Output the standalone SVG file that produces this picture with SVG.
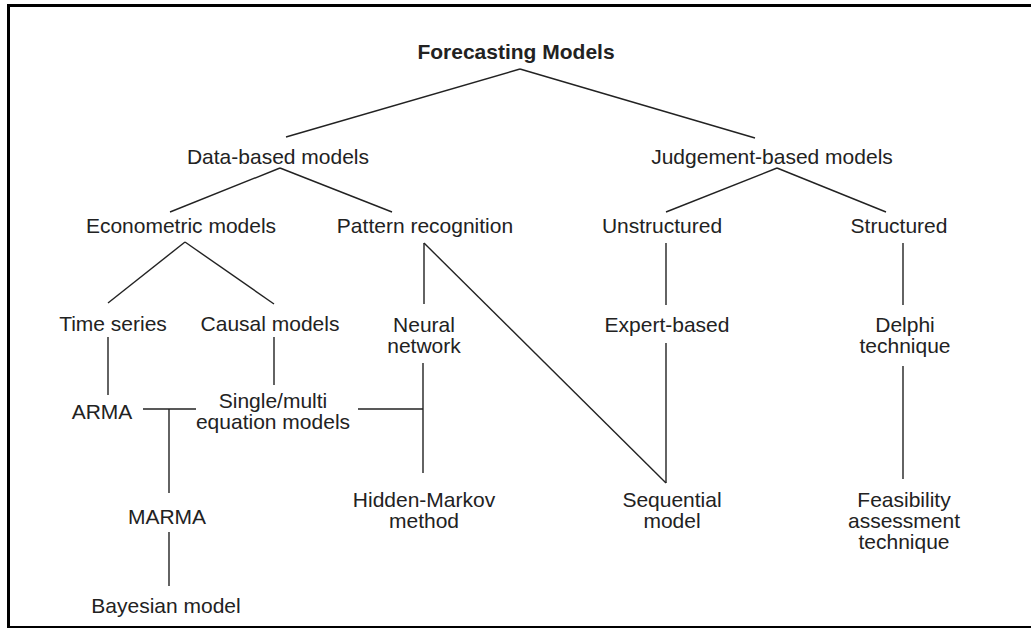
<svg xmlns="http://www.w3.org/2000/svg" width="1031" height="628" viewBox="0 0 1031 628">
  <style>
    .t { font-family: "Liberation Sans", Arial, sans-serif; font-size: 21px; fill: #222; text-anchor: middle; }
    .b { font-weight: bold; }
    .c line { stroke: #222; stroke-width: 1.4; fill: none; }
  </style>
  <rect x="0" y="0" width="1031" height="628" fill="#fff"/>
  <g id="frame" stroke="#000" fill="none">
    <line x1="7" y1="5.5" x2="1031" y2="5.5" stroke-width="3"/>
    <line x1="8.5" y1="4" x2="8.5" y2="628" stroke-width="3"/>
    <line x1="7" y1="627" x2="1031" y2="627" stroke-width="2"/>
  </g>
  <g id="connectors" class="c">
    <line x1="520" y1="69" x2="286" y2="137"/>
    <line x1="520" y1="69" x2="755" y2="138"/>
    <line x1="280" y1="168" x2="170" y2="212"/>
    <line x1="280" y1="168" x2="392" y2="212"/>
    <line x1="777" y1="168" x2="666" y2="212"/>
    <line x1="777" y1="168" x2="886" y2="212"/>
    <line x1="185" y1="242" x2="108" y2="303"/>
    <line x1="185" y1="242" x2="274" y2="304"/>
    <line x1="424" y1="243" x2="424" y2="304"/>
    <line x1="424" y1="243" x2="666" y2="483"/>
    <line x1="666" y1="243" x2="666" y2="305"/>
    <line x1="903" y1="243" x2="903" y2="305"/>
    <line x1="666" y1="343" x2="666" y2="483"/>
    <line x1="903" y1="366" x2="903" y2="479"/>
    <line x1="108" y1="337" x2="108" y2="395"/>
    <line x1="274" y1="337" x2="274" y2="385"/>
    <line x1="143" y1="409" x2="196" y2="409"/>
    <line x1="169" y1="409" x2="169" y2="493"/>
    <line x1="169" y1="532" x2="169" y2="586"/>
    <line x1="358" y1="409" x2="423" y2="409"/>
    <line x1="423" y1="363" x2="423" y2="473"/>
  </g>
  <g id="forecasting-models"><text class="t b" x="516" y="59">Forecasting Models</text></g>
  <g id="data-based"><text class="t" x="278" y="164">Data-based models</text></g>
  <g id="judgement-based"><text class="t" x="772" y="164">Judgement-based models</text></g>
  <g id="econometric"><text class="t" x="181" y="233">Econometric models</text></g>
  <g id="pattern-recognition"><text class="t" x="425" y="233">Pattern recognition</text></g>
  <g id="unstructured"><text class="t" x="662" y="233">Unstructured</text></g>
  <g id="structured"><text class="t" x="899" y="233">Structured</text></g>
  <g id="time-series"><text class="t" x="113" y="331">Time series</text></g>
  <g id="causal-models"><text class="t" x="270" y="331">Causal models</text></g>
  <g id="neural-network"><text class="t" x="424" y="331.5">Neural<tspan x="424" dy="21">network</tspan></text></g>
  <g id="expert-based"><text class="t" x="667" y="332">Expert-based</text></g>
  <g id="delphi"><text class="t" x="905" y="331.5">Delphi<tspan x="905" dy="21">technique</tspan></text></g>
  <g id="arma"><text class="t" x="102" y="419">ARMA</text></g>
  <g id="single-multi"><text class="t" x="273" y="407.5">Single/multi<tspan x="273" dy="21">equation models</tspan></text></g>
  <g id="hidden-markov"><text class="t" x="424" y="507">Hidden-Markov<tspan x="424" dy="21">method</tspan></text></g>
  <g id="marma"><text class="t" x="167" y="524">MARMA</text></g>
  <g id="bayesian"><text class="t" x="166" y="613">Bayesian model</text></g>
  <g id="sequential"><text class="t" x="672" y="507">Sequential<tspan x="672" dy="21">model</tspan></text></g>
  <g id="feasibility"><text class="t" x="904" y="507">Feasibility<tspan x="904" dy="21">assessment</tspan><tspan x="904" dy="21">technique</tspan></text></g>
</svg>
